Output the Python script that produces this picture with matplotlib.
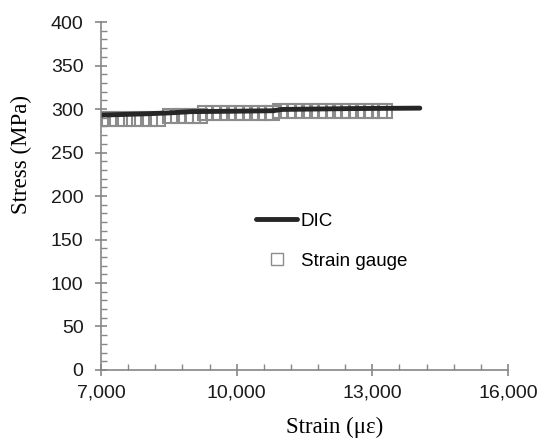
import matplotlib
matplotlib.use("Agg")
import matplotlib.pyplot as plt
from matplotlib.ticker import MultipleLocator, FuncFormatter

# DIC curve (strain in microstrain, stress in MPa)
dic_strain = [7000, 8000, 8500, 9000, 10000, 10800, 11000, 12500, 14050]
dic_stress = [293, 294.5, 295.5, 297, 297.5, 298, 299.5, 300.5, 301]

# strain gauge readings
sg_strain = [7000, 7180, 7360, 7540, 7720, 7900, 8080, 8250,
             8530, 8700, 8870, 9040, 9180,
             9300, 9470, 9640, 9810, 9980, 10150, 10320, 10490, 10640, 10780,
             10960, 11130, 11300, 11470, 11640, 11810, 11980, 12150, 12320,
             12490, 12660, 12830, 13000, 13170, 13280]
sg_stress = [289, 289, 289, 289, 289, 289, 289, 289,
             292.5, 292.5, 292.5, 292.5, 292.5,
             295, 295, 295, 295, 295, 295, 295, 295, 295, 295,
             298, 298, 298, 298, 298, 298, 298, 298, 298,
             298, 298, 298, 298, 298, 298]

fig = plt.figure(figsize=(5.47, 4.42), dpi=100)
ax = fig.add_axes([0.1846, 0.1629, 0.7441, 0.7873])

ax.plot(sg_strain, sg_stress, ls="none", marker="s", ms=10, mfc="none",
        mec="#8c8c8c", mew=1.5, label="Strain gauge")
ax.plot(dic_strain, dic_stress, color="#262626", lw=3.5, label="DIC",
        solid_capstyle="round")

ax.set_xlim(7000, 16000)
ax.set_ylim(0, 400)
ax.xaxis.set_major_locator(MultipleLocator(3000, offset=1000))
ax.xaxis.set_minor_locator(MultipleLocator(600, offset=400))
ax.yaxis.set_major_locator(MultipleLocator(50))
ax.yaxis.set_minor_locator(MultipleLocator(10))
ax.xaxis.set_major_formatter(FuncFormatter(lambda v, p: f"{int(round(v)):,}"))

for s in ["top", "right"]:
    ax.spines[s].set_visible(False)
for s in ["left", "bottom"]:
    ax.spines[s].set_color("#868686")
    ax.spines[s].set_linewidth(1.2)

ax.tick_params(which="major", direction="inout", length=9, width=1.2,
               color="#868686", labelsize=14, labelcolor="#1a1a1a")
ax.tick_params(which="minor", direction="in", length=4.5, width=1.0,
               color="#868686")
for lab in ax.get_xticklabels() + ax.get_yticklabels():
    lab.set_family("Liberation Sans")
ax.tick_params(axis="x", pad=6)
ax.tick_params(axis="y", pad=8)

fig.text(0.040, 0.65, "Stress (MPa)", rotation=90, ha="center", va="center",
         family="Liberation Serif", fontsize=16.5)
fig.text(0.611, 0.034, "Strain (\u03bc\u03b5)", ha="center", va="center",
         family="Liberation Serif", fontsize=16.5)

h, l = ax.get_legend_handles_labels()
leg = fig.legend([h[1], h[0]], [l[1], l[0]], loc="center left",
                 bbox_to_anchor=(0.468, 0.4543), frameon=False,
                 borderpad=0, borderaxespad=0, handlelength=2.2,
                 handletextpad=0.2, labelspacing=1.2, numpoints=1,
                 prop={"family": "Liberation Sans", "size": 13.5})
leg.legend_handles[1].set_markersize(9)
leg.legend_handles[1].set_markeredgewidth(1.0)

fig.savefig("out.png", dpi=100)
